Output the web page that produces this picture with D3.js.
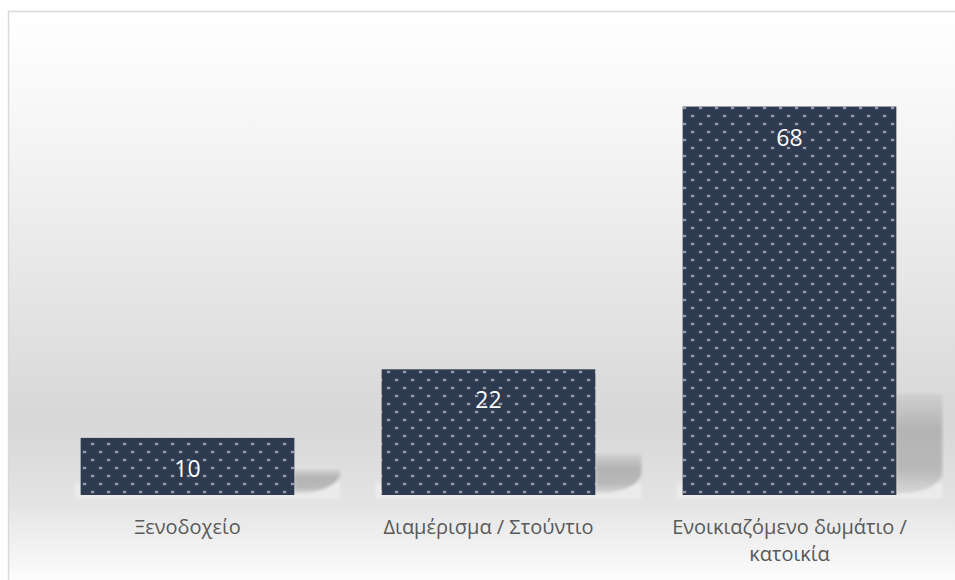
<!DOCTYPE html>
<html>
<head>
<meta charset="utf-8">
<script src="https://cdn.jsdelivr.net/npm/d3@7"></script>
<style>
  html, body { margin: 0; padding: 0; background: #ffffff; }
  svg { display: block; }
</style>
</head>
<body>
<svg id="chart" width="955" height="580"></svg>
<script>
// Accommodation type shares
const categories = ["Ξενοδοχείο", "Διαμέρισμα / Στούντιο", "Ενοικιαζόμενο δωμάτιο / κατοικία"];
const values = [10, 22, 68];

const W = 955, H = 580;
const svg = d3.select("#chart");
const defs = svg.append("defs");

// Chart area background: soft grey band towards the floor
const bg = defs.append("linearGradient").attr("id", "bgGrad")
  .attr("x1", 0).attr("y1", 0).attr("x2", 0).attr("y2", 1);
[[0, "#ffffff"], [0.16, "#f8f8f8"], [0.5, "#e5e5e5"], [0.72, "#d7d7d7"], [0.86, "#e3e3e3"], [1, "#fcfcfc"]]
  .forEach(([o, c]) => bg.append("stop").attr("offset", o).attr("stop-color", c));

// Dotted navy fill for the bars
const pat = defs.append("pattern").attr("id", "dots")
  .attr("patternUnits", "userSpaceOnUse").attr("width", 16).attr("height", 16);
pat.append("rect").attr("width", 16).attr("height", 16).attr("fill", "#2e3a4f");
[[3, 3], [11, 11]].forEach(([x, y]) => {
  pat.append("rect").attr("x", x - 0.5).attr("y", y - 0.5).attr("width", 4).attr("height", 3)
    .attr("fill", "#4f5a70");
  pat.append("rect").attr("x", x).attr("y", y).attr("width", 3).attr("height", 2)
    .attr("fill", "#959dab");
});

// Perspective shadow behind each bar
const sh = defs.append("linearGradient").attr("id", "shadowGrad")
  .attr("x1", 0).attr("y1", 0).attr("x2", 0).attr("y2", 1);
[[0, "#d0d0d0"], [0.35, "#b4b4b4"], [0.75, "#b8b8b8"], [1, "#d6d6d6"]]
  .forEach(([o, c]) => sh.append("stop").attr("offset", o).attr("stop-color", c));
defs.append("filter").attr("id", "soft").attr("x", "-20%").attr("y", "-20%").attr("width", "140%").attr("height", "140%")
  .append("feGaussianBlur").attr("stdDeviation", 1.6);

// Chart area with frame
svg.append("rect").attr("x", 8).attr("y", 11).attr("width", W - 8).attr("height", H - 11)
  .attr("fill", "url(#bgGrad)");
svg.append("line").attr("x1", 8).attr("x2", W).attr("y1", 11.5).attr("y2", 11.5)
  .attr("stroke", "#d9d9d9").attr("stroke-width", 1.5);
svg.append("line").attr("x1", 8.5).attr("x2", 8.5).attr("y1", 11).attr("y2", H)
  .attr("stroke", "#d9d9d9").attr("stroke-width", 1.5);

const x = d3.scaleBand().domain(categories).range([37, 940])
  .paddingInner(0.29).paddingOuter(0.145);
const y = d3.scaleLinear().domain([0, 80]).range([495, 38]);

const base = y(0);
const g = svg.append("g");

// Floor plates under the bars
g.selectAll("rect.floor").data(categories).join("rect").attr("class", "floor")
  .attr("x", d => x(d) - 6)
  .attr("y", base - 12)
  .attr("width", x.bandwidth() + 52)
  .attr("height", 16)
  .attr("fill", "#f4f4f4").attr("opacity", 0.5)
  .attr("filter", "url(#soft)");

// Shadows
g.selectAll("path.shadow").data(values).join("path").attr("class", "shadow")
  .attr("d", (v, i) => {
    const x1 = x(categories[i]) + x.bandwidth();
    const h = base - y(v);
    const top = base - (0.23 * h + 12);
    const b = base - 2;
    const w = 46;
    return `M${x1},${top} L${x1 + w},${top} L${x1 + w},${b - 18} Q${x1 + w - 6},${b - 4} ${x1 + 12},${b} L${x1},${b} Z`;
  })
  .attr("fill", "url(#shadowGrad)")
  .attr("filter", "url(#soft)");

// Bars
g.selectAll("rect.bar").data(values).join("rect").attr("class", "bar")
  .attr("x", (v, i) => x(categories[i]))
  .attr("y", v => y(v))
  .attr("width", x.bandwidth())
  .attr("height", v => base - y(v))
  .attr("fill", "url(#dots)");

// Value labels
g.selectAll("text.val").data(values).join("text").attr("class", "val")
  .attr("x", (v, i) => x(categories[i]) + x.bandwidth() / 2)
  .attr("y", v => y(v) + 39)
  .attr("text-anchor", "middle")
  .attr("font-family", "'Open Sans', 'Noto Sans', sans-serif")
  .attr("font-size", 23)
  .attr("fill", "#ffffff")
  .text(v => v);

// Category axis labels, wrapped to the band width
const xAxis = d3.axisBottom(x).tickSize(0).tickPadding(0);
const ax = svg.append("g").attr("transform", `translate(0,${base})`).call(xAxis);
ax.select(".domain").remove();
ax.selectAll(".tick text")
  .attr("font-family", "'Open Sans', 'Noto Sans', sans-serif")
  .attr("font-size", 20)
  .attr("fill", "#595959")
  .attr("y", 39).attr("dy", 0)
  .each(function (d) {
    const t = d3.select(this);
    const words = d.split(" ");
    t.text(null);
    let line = [];
    let ln = 0;
    let ts = t.append("tspan").attr("x", 0).attr("y", 39);
    words.forEach(wd => {
      line.push(wd);
      ts.text(line.join(" "));
      if (ts.node().getComputedTextLength() > x.bandwidth() + 60 && line.length > 1) {
        line.pop();
        ts.text(line.join(" "));
        line = [wd];
        ln++;
        ts = t.append("tspan").attr("x", 0).attr("y", 39 + ln * 27).text(wd);
      }
    });
  });
</script>
</body>
</html>
